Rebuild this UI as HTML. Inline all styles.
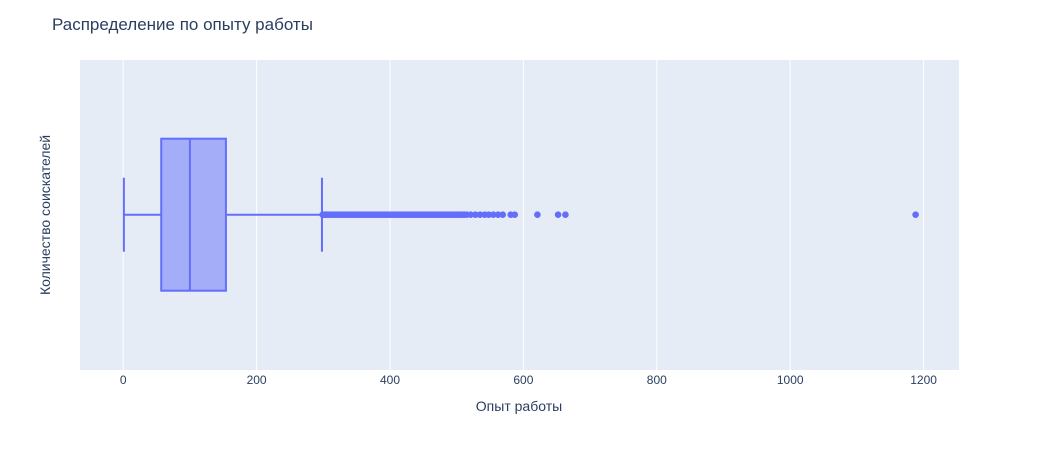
<!DOCTYPE html>
<html><head><meta charset="utf-8">
<style>
body{margin:0;background:#fff;}
svg text{font-family:"Liberation Sans","DejaVu Sans",sans-serif;fill:#2a3f5f;}
</style></head>
<body>
<svg id="chart" width="1040" height="450" xmlns="http://www.w3.org/2000/svg">
<rect x="0" y="0" width="1040" height="450" fill="#fff"/>
<rect x="80" y="60" width="879" height="310" fill="#e5ecf6"/>
<g id="grid"></g>
<g id="ticks"></g>
<g id="marks"></g>
<text x="52" y="30" font-size="17">Распределение по опыту работы</text>
<text x="519" y="411" font-size="14" text-anchor="middle">Опыт работы</text>
<text transform="translate(50,215) rotate(-90)" font-size="14" text-anchor="middle">Количество соискателей</text>
</svg>
<script>
const tickValues = [0, 200, 400, 600, 800, 1000, 1200];
const tickLabels = ["0", "200", "400", "600", "800", "1000", "1200"];
const boxStats = [1, 57, 100, 154, 298]; // min, q1, median, q3, upper fence
const outliers = [299,301,303,305,307,309,312,315,318,321,324,327,330,333,336,339,342,345,348,351,354,357,360,363,366,369,372,375,378,381,384,387,390,393,396,399,402,405,408,411,414,417,420,423,426,429,432,435,438,441,444,447,450,453,456,459,462,465,468,471,474,477,480,483,486,489,492,495,498,501,504,507,509,511,515,521,528,535,542,548,555,562,569,581,587,621,652,663,1188];

const NS = "http://www.w3.org/2000/svg";
const x = v => 123.2 + v * (133.4 / 200);
const yc = 214.7, boxH = 152, capH = 74;
function mk(tag, attrs, parent) {
  const e = document.createElementNS(NS, tag);
  for (const k in attrs) e.setAttribute(k, attrs[k]);
  document.getElementById(parent).appendChild(e);
  return e;
}
tickValues.forEach((v, i) => {
  const g = mk("line", {x1: x(v), x2: x(v), y1: 60, y2: 370, stroke: "#fff", "stroke-width": 1}, "grid");
  
  
  const t = mk("text", {x: x(v), y: 384, "font-size": 12, "text-anchor": "middle"}, "ticks");
  t.textContent = tickLabels[i];
  
  
});
const [mn, q1, med, q3, mx] = boxStats;
const c = "#636efa";
const wl = mk("line", {x1: x(mn), x2: x(q1), y1: yc, y2: yc, stroke: c, "stroke-width": 2}, "marks");


const wr = mk("line", {x1: x(q3), x2: x(mx), y1: yc, y2: yc, stroke: c, "stroke-width": 2}, "marks");


const cl = mk("line", {x1: x(mn), x2: x(mn), y1: yc - capH/2, y2: yc + capH/2, stroke: c, "stroke-width": 2}, "marks");


const cr = mk("line", {x1: x(mx), x2: x(mx), y1: yc - capH/2, y2: yc + capH/2, stroke: c, "stroke-width": 2}, "marks");


const bx = mk("rect", {x: x(q1), y: yc - boxH/2, width: x(q3) - x(q1), height: boxH, fill: "rgba(99,110,250,0.5)", stroke: c, "stroke-width": 2}, "marks");


const md = mk("line", {x1: x(med), x2: x(med), y1: yc - boxH/2, y2: yc + boxH/2, stroke: c, "stroke-width": 2}, "marks");


outliers.forEach(v => {
  const p = mk("circle", {cx: x(v), cy: yc, r: 3.3, fill: c}, "marks");
  
  
});
</script>
</body></html>
